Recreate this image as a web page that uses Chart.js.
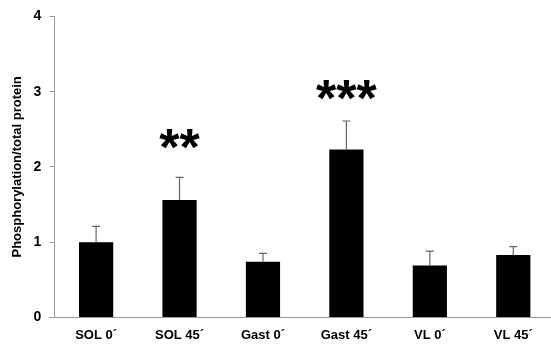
<!DOCTYPE html>
<html>
<head>
<meta charset="utf-8">
<script src="https://cdn.jsdelivr.net/npm/chart.js@4"></script>
<style>
  html, body { margin: 0; padding: 0; background: #fff; overflow: hidden; }
  #wrap { width: 551px; height: 345px; overflow: hidden; }
</style>
</head>
<body>
<div id="wrap"><canvas id="barChart" width="555" height="345"></canvas></div>
<script>
// values
const groups = ['SOL 0´', 'SOL 45´', 'Gast 0´', 'Gast 45´', 'VL 0´', 'VL 45´'];
const means = [1.00, 1.56, 0.74, 2.23, 0.69, 0.83];
const sem = [0.21, 0.30, 0.11, 0.38, 0.19, 0.11];
const stars = ['', '**', '', '***', '', ''];
const starLevel = [null, 2.35, null, 3.0, null, null];
const yTicks = [0, 1, 2, 3, 4];

// upper error bars + significance stars
const extras = {
  id: 'extras',
  afterDatasetsDraw(chart) {
    const ctx = chart.ctx;
    const x = chart.scales.x, y = chart.scales.y;
    ctx.save();
    ctx.strokeStyle = '#666';
    ctx.lineWidth = 1.2;
    means.forEach((m, i) => {
      const cx = x.getPixelForValue(i);
      const top = y.getPixelForValue(m + sem[i]);
      const base = y.getPixelForValue(m);
      ctx.beginPath();
      ctx.moveTo(cx, base);
      ctx.lineTo(cx, top);
      ctx.moveTo(cx - 4, top);
      ctx.lineTo(cx + 4, top);
      ctx.stroke();
    });
    ctx.fillStyle = '#000';
    ctx.font = 'bold 52px "Liberation Sans", Arial, sans-serif';
    ctx.textAlign = 'center';
    ctx.textBaseline = 'middle';
    stars.forEach((s, i) => {
      if (!s) return;
      ctx.fillText(s, x.getPixelForValue(i), y.getPixelForValue(starLevel[i]) + 10);
    });
    ctx.restore();
  }
};

const ctx = document.getElementById('barChart').getContext('2d');
const chart = new Chart(ctx, {
  type: 'bar',
  data: {
    labels: groups,
    datasets: [{
      data: means,
      backgroundColor: '#000',
      borderWidth: 0,
      categoryPercentage: 1.0,
      barPercentage: 0.41
    }]
  },
  options: {
    responsive: false,
    animation: false,
    layout: { padding: { top: 5, right: 0, left: 10, bottom: 0 } },
    plugins: { legend: { display: false }, tooltip: { enabled: false } },
    scales: {
      x: {
        grid: { display: false },
        border: { color: '#999', width: 1 },
        ticks: {
          color: '#000',
          padding: 2,
          font: { family: '"Liberation Sans", Arial, sans-serif', size: 13, weight: 'bold' }
        }
      },
      y: {
        min: 0,
        max: 4,
        afterBuildTicks(scale) { scale.ticks = yTicks.map(v => ({ value: v })); },
        grid: { drawOnChartArea: false, drawTicks: true, tickLength: 5, color: '#999' },
        border: { color: '#999', width: 1 },
        ticks: {
          color: '#000',
          padding: 8,
          font: { family: '"Liberation Sans", Arial, sans-serif', size: 14, weight: 'bold' }
        },
        title: {
          display: true,
          text: 'Phosphorylation/total protein',
          color: '#000',
          padding: { top: 0, bottom: 0 },
          font: { family: '"Liberation Sans", Arial, sans-serif', size: 13, weight: 'bold' }
        }
      }
    }
  },
  plugins: [extras]
});
</script>
</body>
</html>
